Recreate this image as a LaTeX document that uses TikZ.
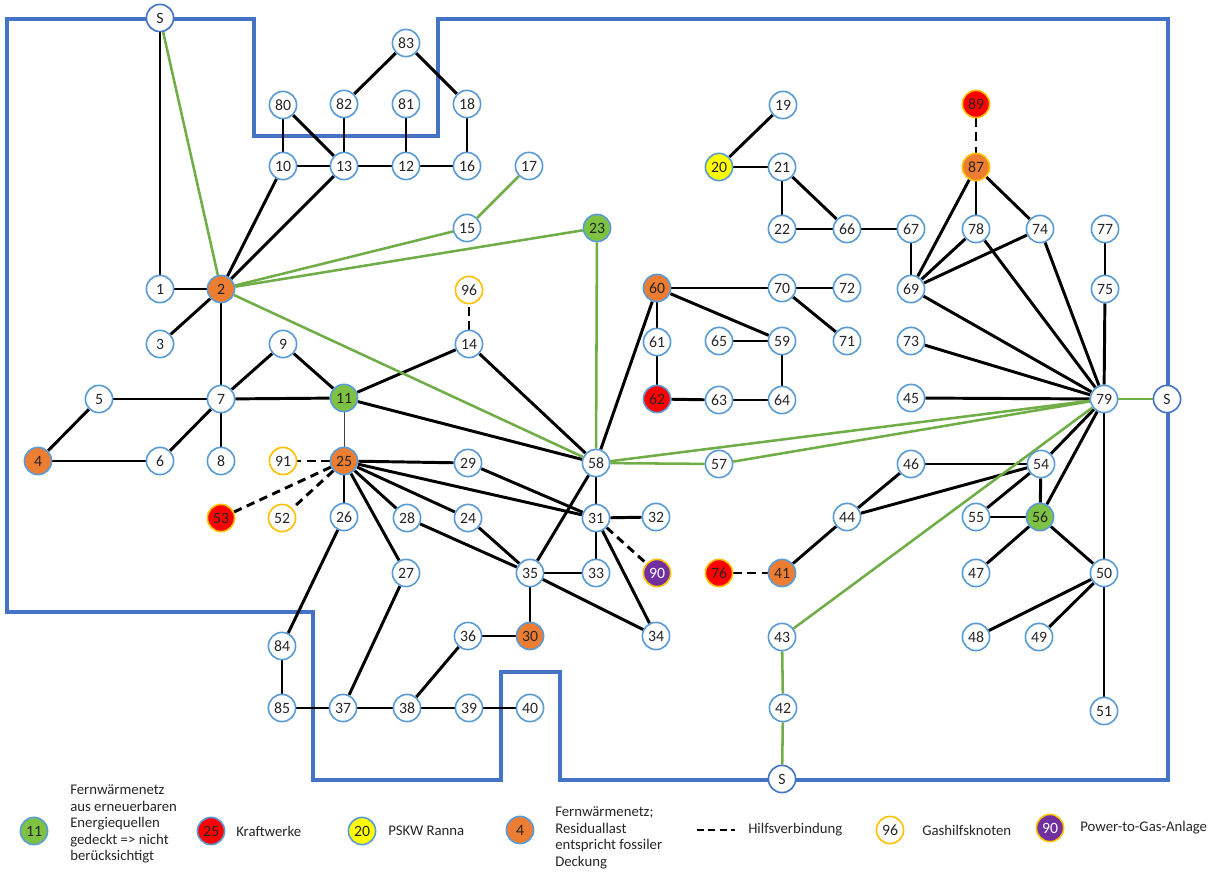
\documentclass[tikz,border=0pt]{standalone}
\usepackage{fontspec}
\setmainfont{Carlito}
\usetikzlibrary{backgrounds}
\definecolor{nodeblue}{HTML}{5B9BD5}
\definecolor{zoneblue}{HTML}{4472C4}
\definecolor{linkgreen}{HTML}{70AD47}
\definecolor{fillgreen}{HTML}{7DC242}
\definecolor{fillorange}{HTML}{ED7D31}
\definecolor{fillred}{HTML}{FF0000}
\definecolor{fillyellow}{HTML}{FFFF00}
\definecolor{fillpurple}{HTML}{7030A0}
\definecolor{gasgold}{HTML}{FFC000}
\definecolor{txt}{HTML}{262626}
\begin{document}
\begin{tikzpicture}[x=0.025cm,y=-0.025cm,
  base/.style={circle,minimum size=0.68cm,inner sep=0pt,line width=1.15pt,
    font=\fontsize{11.2}{12}\selectfont,text=txt},
  plainnode/.style={base,draw=nodeblue,fill=white},
  snode/.style={base,draw=zoneblue,fill=white},
  greennode/.style={base,draw=nodeblue,fill=fillgreen},
  orangenode/.style={base,draw=nodeblue,fill=fillorange},
  orangegold/.style={base,draw=gasgold,fill=fillorange},
  rednode/.style={base,draw=gasgold,fill=fillred},
  redblue/.style={base,draw=nodeblue,fill=fillred},
  yellownode/.style={base,draw=nodeblue,fill=fillyellow},
  gasnode/.style={base,draw=gasgold,fill=white},
  ptgnode/.style={base,draw=gasgold,fill=fillpurple,text=white},
  link/.style={line width=2.1pt,black},
  greenlink/.style={line width=1.8pt,linkgreen},
  auxlink/.style={line width=2.1pt,black,dash pattern=on 6pt off 4pt},
  thinlink/.style={line width=0.7pt,black!75},
  zone/.style={line width=2.8pt,zoneblue},
  legendtext/.style={anchor=west,align=left,inner sep=0pt,text=txt,
    font=\fontsize{10.5}{11.8}\selectfont}]

\path[use as bounding box] (0,0) rectangle (1210,874);

% network nodes
\node[snode] (nS1) at (160,18) {S};
\node[snode] (nS2) at (1167,399) {S};
\node[snode] (nS3) at (782,779) {S};

\node[plainnode] (n1) at (160,289) {1};
\node[orangenode] (n2) at (221,289) {2};
\node[plainnode] (n3) at (160,344) {3};
\node[orangenode] (n4) at (38,461) {4};
\node[plainnode] (n5) at (99,399) {5};
\node[plainnode] (n6) at (160,461) {6};
\node[plainnode] (n7) at (221,399) {7};
\node[plainnode] (n8) at (221,461) {8};
\node[plainnode] (n9) at (283,344) {9};
\node[plainnode] (n10) at (283,166) {10};
\node[greennode] (n11) at (344,398) {11};
\node[plainnode] (n12) at (406,166) {12};
\node[plainnode] (n13) at (344,166) {13};
\node[plainnode] (n14) at (469,344) {14};
\node[plainnode] (n15) at (467,228) {15};
\node[plainnode] (n16) at (467,166) {16};
\node[plainnode] (n17) at (529,166) {17};
\node[plainnode] (n18) at (467,104) {18};
\node[plainnode] (n19) at (783,105) {19};
\node[yellownode] (n20) at (719,167) {20};
\node[plainnode] (n21) at (782,167) {21};
\node[plainnode] (n22) at (782,229) {22};
\node[greennode] (n23) at (597,228) {23};
\node[plainnode] (n24) at (468,518) {24};
\node[orangenode] (n25) at (344,461) {25};
\node[plainnode] (n26) at (344,517) {26};
\node[plainnode] (n27) at (406,573) {27};
\node[plainnode] (n28) at (407,518) {28};
\node[plainnode] (n29) at (468,463) {29};
\node[orangenode] (n30) at (530,636) {30};
\node[plainnode] (n31) at (596,518) {31};
\node[plainnode] (n32) at (656,517) {32};
\node[plainnode] (n33) at (596,573) {33};
\node[plainnode] (n34) at (656,636) {34};
\node[plainnode] (n35) at (530,573) {35};
\node[plainnode] (n36) at (468,636) {36};
\node[plainnode] (n37) at (343,708) {37};
\node[plainnode] (n38) at (407,708) {38};
\node[plainnode] (n39) at (469,708) {39};
\node[plainnode] (n40) at (530,708) {40};
\node[orangenode] (n41) at (782,573) {41};
\node[plainnode] (n42) at (783,708) {42};
\node[plainnode] (n43) at (782,637) {43};
\node[plainnode] (n44) at (847,517) {44};
\node[plainnode] (n45) at (911,398) {45};
\node[plainnode] (n46) at (911,464) {46};
\node[plainnode] (n47) at (976,573) {47};
\node[plainnode] (n48) at (976,637) {48};
\node[plainnode] (n49) at (1039,637) {49};
\node[plainnode] (n50) at (1104,573) {50};
\node[plainnode] (n51) at (1104,711) {51};
\node[gasnode] (n52) at (282,518) {52};
\node[rednode] (n53) at (221,518) {53};
\node[plainnode] (n54) at (1041,464) {54};
\node[plainnode] (n55) at (976,517) {55};
\node[greennode] (n56) at (1040,517) {56};
\node[plainnode] (n57) at (719,464) {57};
\node[plainnode] (n58) at (596,463) {58};
\node[plainnode] (n59) at (782,341) {59};
\node[orangenode] (n60) at (657,288) {60};
\node[plainnode] (n61) at (657,342) {61};
\node[redblue] (n62) at (657,399) {62};
\node[plainnode] (n63) at (719,400) {63};
\node[plainnode] (n64) at (782,400) {64};
\node[plainnode] (n65) at (719,341) {65};
\node[plainnode] (n66) at (847,229) {66};
\node[plainnode] (n67) at (911,229) {67};
\node[plainnode] (n69) at (911,289) {69};
\node[plainnode] (n70) at (782,288) {70};
\node[plainnode] (n71) at (847,341) {71};
\node[plainnode] (n72) at (847,288) {72};
\node[plainnode] (n73) at (911,341) {73};
\node[plainnode] (n74) at (1040,229) {74};
\node[plainnode] (n75) at (1105,289) {75};
\node[rednode] (n76) at (719,573) {76};
\node[plainnode] (n77) at (1105,229) {77};
\node[plainnode] (n78) at (976,229) {78};
\node[plainnode] (n79) at (1104,399) {79};
\node[plainnode] (n80) at (283,105) {80};
\node[plainnode] (n81) at (406,104) {81};
\node[plainnode] (n82) at (344,104) {82};
\node[plainnode] (n83) at (406,43) {83};
\node[plainnode] (n84) at (282,646) {84};
\node[plainnode] (n85) at (282,708) {85};
\node[orangegold] (n87) at (976,167) {87};
\node[rednode] (n89) at (976,104) {89};
\node[ptgnode] (n90) at (657,573) {90};
\node[gasnode] (n91) at (283,461) {91};
\node[gasnode] (n96) at (469,290) {96};

% outline and connections, behind the nodes
\begin{pgfonlayer}{background}
\draw[zone] (7,612) -- (7,19) -- (254,19) -- (254,136) -- (438,136) -- (438,19)
  -- (1168,19) -- (1168,780) -- (560,780) -- (560,672) -- (501,672) -- (501,780)
  -- (313,780) -- (313,612) -- cycle;

\foreach \a/\b in {S1/1, 1/2, 2/10, 2/13, 2/3, 2/7, 80/10, 80/13, 82/13,
    83/82, 83/18, 18/16, 10/13, 13/12, 12/16, 81/12,
    7/5, 5/4, 4/6, 6/7, 7/8, 7/9, 9/11, 7/11, 11/14, 11/58, 14/58,
    60/58, 60/61, 61/62, 62/63, 63/64, 64/59, 65/59, 60/59, 60/70, 70/72, 70/71,
    19/20, 20/21, 21/22, 21/66, 22/66, 66/67, 67/69,
    87/69, 87/78, 87/74, 78/69, 74/69, 78/79, 74/79, 69/79, 73/79, 45/79,
    77/75, 75/79, 79/54, 79/56, 79/50,
    46/54, 46/44, 44/54, 44/41, 54/55, 54/56, 55/56, 56/47, 56/50,
    50/48, 50/49, 50/51,
    25/26, 25/27, 25/28, 25/24, 25/29, 25/31, 29/31,
    26/84, 84/85, 85/37, 37/38, 38/39, 39/40, 37/27, 38/36, 36/30,
    28/35, 24/35, 35/58, 35/33, 35/30, 35/34, 58/31, 31/32, 31/33, 31/34}
  \draw[link] (n\a) -- (n\b);

\foreach \a/\b in {S1/2, 2/15, 15/17, 2/23, 2/58, 23/58, 79/S2, 79/58,
    79/57, 57/58, 79/43, 43/42, 42/S3}
  \draw[greenlink] (n\a) -- (n\b);

\foreach \a/\b in {14/96, 89/87, 76/41, 25/91, 25/53, 25/52, 31/90}
  \draw[auxlink] (n\a) -- (n\b);

\draw[thinlink] (n11) -- (n25);
\end{pgfonlayer}

% legend
\node[greennode] (l11) at (34,831) {11};
\node[legendtext] (t11) at (70,824) {Fernwärmenetz\\aus erneuerbaren\\Energiequellen\\gedeckt => nicht\\berücksichtigt};
\node[redblue] (l25) at (211,831) {25};
\node[legendtext] (t25) at (236,831) {Kraftwerke};
\node[yellownode] (l20) at (362,831) {20};
\node[legendtext] (t20) at (388,831) {PSKW Ranna};
\node[orangenode] (l4) at (520,830) {4};
\node[legendtext] (t4) at (555,838) {Fernwärmenetz;\\Residuallast\\entspricht fossiler\\Deckung};
\coordinate (d1) at (697,830);
\coordinate (d2) at (735,830);
\draw[line width=1.8pt,black,dash pattern=on 5pt off 3pt] (d1) -- (d2);
\node[legendtext] (tdash) at (748,830) {Hilfsverbindung};
\node[gasnode] (l96) at (890,830) {96};
\node[legendtext] (t96) at (922,830) {Gashilfsknoten};
\node[ptgnode] (l90) at (1050,828) {90};
\node[legendtext] (t90) at (1080,828) {Power-to-Gas-Anlage};

\end{tikzpicture}
\end{document}
